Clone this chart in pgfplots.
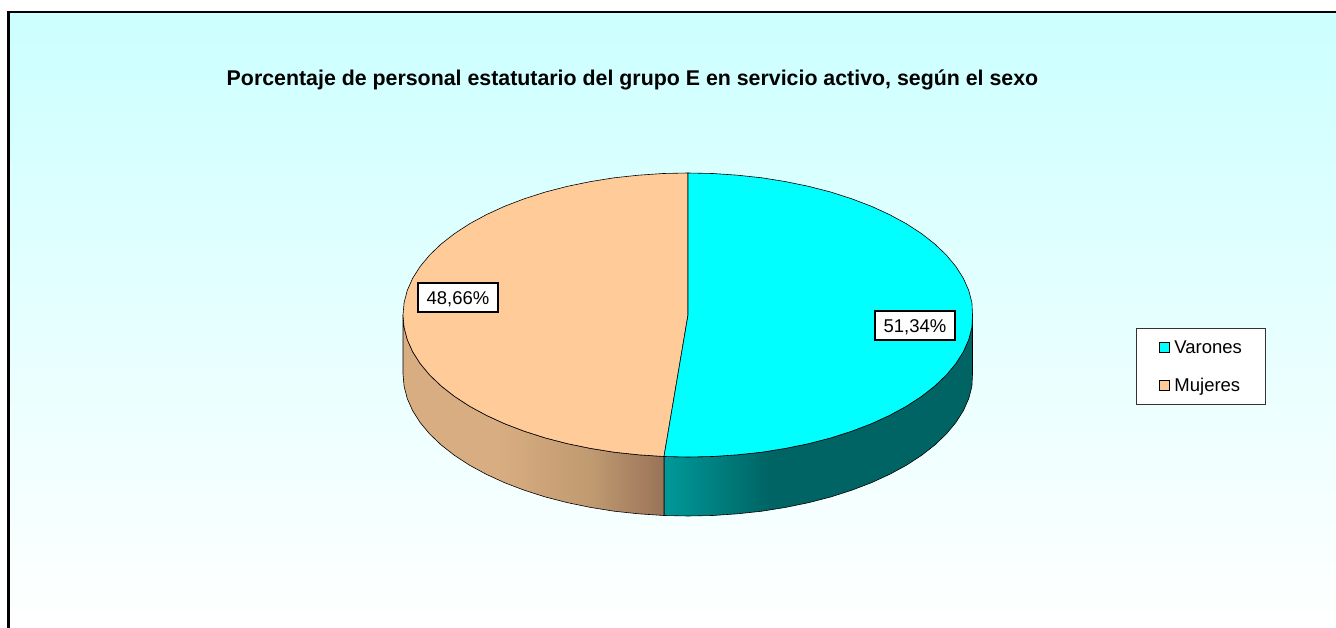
\documentclass[border=0pt]{standalone}
\usepackage{pgfplots}
\pgfplotsset{compat=1.18}
\usepackage{fontspec}
\setmainfont{Liberation Sans}
\definecolor{bgtop}{RGB}{204,255,255}
\definecolor{faceA}{RGB}{0,255,255}
\definecolor{faceB}{RGB}{255,204,153}
\definecolor{tealA}{RGB}{0,153,153}
\definecolor{tealB}{RGB}{0,100,100}
\definecolor{tanA}{RGB}{217,173,130}
\definecolor{tanB}{RGB}{192,154,112}
\definecolor{tanC}{RGB}{153,115,88}
\pgfdeclarehorizontalshading{tealside}{100bp}{color(0bp)=(tealA); color(25bp)=(tealA); color(42bp)=(tealB); color(100bp)=(tealB)}
\pgfdeclarehorizontalshading{tanside}{100bp}{color(0bp)=(tanA); color(43bp)=(tanA); color(61bp)=(tanB); color(75bp)=(tanC); color(100bp)=(tanC)}
\begin{document}
\begin{tikzpicture}
\begin{axis}[
  scale only axis, width=1336pt, height=628pt,
  xmin=0, xmax=1336, ymin=0, ymax=628, y dir=reverse,
  hide axis, clip=true,
  legend style={at={(axis cs:1135.5,328)}, anchor=north west, draw=black!80, line width=0.9pt, fill=white,
    font=\fontsize{18.5}{20}\selectfont, inner xsep=23pt, inner ysep=12pt,
    row sep=23pt,
    nodes={inner sep=0pt, anchor=west}},
  legend cell align=left,
]
% page
\addplot[forget plot, draw=none, fill=white] coordinates {(0,0)(1336,0)(1336,628)(0,628)} -- cycle;
% background
\addplot[forget plot, draw=none, top color=bgtop, bottom color=white] coordinates {(8.5,12)(1336,12)(1336,628)(8.5,628)} -- cycle;
\addplot[forget plot, black, line width=2.6pt] coordinates {(8.5,628)(8.5,12)(1336,12)};
% side, Varones
\addplot[forget plot, draw=black, line width=0.6pt, shading=tealside] coordinates {
(664,456.5)(688,457)(712.8,456.5)(737.5,454.8)(761.8,452.2)(785.5,448.4)(808.4,443.7)(830.5,438)(851.5,431.3)(871.2,423.8)(889.5,415.4)(906.3,406.3)(921.5,396.4)(934.8,386)(946.3,375)(955.8,363.6)(963.3,351.8)(968.7,339.7)(971.9,327.4)(972.5,315)
(972.5,374)(971.9,386.4)(968.7,398.7)(963.3,410.8)(955.8,422.6)(946.3,434)(934.8,445)(921.5,455.4)(906.3,465.3)(889.5,474.4)(871.2,482.8)(851.5,490.3)(830.5,497)(808.4,502.7)(785.5,507.4)(761.8,511.2)(737.5,513.8)(712.8,515.5)(688,516)(664,515.5)} -- cycle;
% side, Mujeres
\addplot[forget plot, draw=black, line width=0.6pt, shading=tanside] coordinates {
(664,456.5)(638.5,454.8)(614.2,452.2)(590.5,448.4)(567.6,443.7)(545.5,438)(524.5,431.3)(504.8,423.8)(486.5,415.4)(469.7,406.3)(454.5,396.4)(441.2,386)(429.7,375)(420.2,363.6)(412.7,351.8)(407.3,339.7)(404.1,327.4)(403,315)
(403,374)(404.1,386.4)(407.3,398.7)(412.7,410.8)(420.2,422.6)(429.7,434)(441.2,445)(454.5,455.4)(469.7,465.3)(486.5,474.4)(504.8,482.8)(524.5,490.3)(545.5,497)(567.6,502.7)(590.5,507.4)(614.2,511.2)(638.5,513.8)(664,515.5)} -- cycle;
% top, Mujeres 48.66
\addplot[forget plot, draw=black, line width=0.6pt, fill=faceB] coordinates {
(688,315)(664,456.5)(638.5,454.8)(614.2,452.2)(590.5,448.4)(567.6,443.7)(545.5,438)(524.5,431.3)(504.8,423.8)(486.5,415.4)(469.7,406.3)(454.5,396.4)(441.2,386)(429.7,375)(420.2,363.6)(412.7,351.8)(407.3,339.7)(404.1,327.4)(403,315)(404.1,302.6)(407.3,290.3)(412.7,278.2)(420.2,266.4)(429.7,255)(441.2,244)(454.5,233.6)(469.7,223.7)(486.5,214.6)(504.8,206.2)(524.5,198.7)(545.5,192)(567.6,186.3)(590.5,181.6)(614.2,177.8)(638.5,175.2)(663.2,173.5)(688,173)} -- cycle;
% top, Varones 51.34
\addplot[forget plot, draw=black, line width=0.6pt, fill=faceA] coordinates {
(688,315)(688,173)(712.8,173.5)(737.5,175.2)(761.8,177.8)(785.5,181.6)(808.4,186.3)(830.5,192)(851.5,198.7)(871.2,206.2)(889.5,214.6)(906.3,223.7)(921.5,233.6)(934.8,244)(946.3,255)(955.8,266.4)(963.3,278.2)(968.7,290.3)(971.9,302.6)(972.5,315)(971.9,327.4)(968.7,339.7)(963.3,351.8)(955.8,363.6)(946.3,375)(934.8,386)(921.5,396.4)(906.3,406.3)(889.5,415.4)(871.2,423.8)(851.5,431.3)(830.5,438)(808.4,443.7)(785.5,448.4)(761.8,452.2)(737.5,454.8)(712.8,456.5)(688,457)(664,456.5)} -- cycle;
\addlegendimage{legend image code/.code={\draw[black,line width=1.1pt,fill=faceA] (-5pt,-5pt) rectangle (5pt,5pt); \path (9.5pt,0pt);}}
\addlegendentry{Varones\hspace{2.5pt}}
\addlegendimage{legend image code/.code={\draw[black,line width=1.1pt,fill=faceB] (-5pt,-5pt) rectangle (5pt,5pt); \path (9.5pt,0pt);}}
\addlegendentry{Mujeres}
% data labels and title
\node[draw=black, fill=white, line width=1.5pt, minimum width=80pt, minimum height=29pt, inner sep=0pt, text height=13.3pt, text depth=0pt, font=\fontsize{18.5}{20}\selectfont] at (axis cs:458,297.5) {48,66\%};
\node[draw=black, fill=white, line width=1.5pt, minimum width=80pt, minimum height=29pt, inner sep=0pt, text height=13.3pt, text depth=0pt, font=\fontsize{18.5}{20}\selectfont] at (axis cs:915,325.5) {51,34\%};
\node[font=\bfseries\fontsize{21.35}{24}\selectfont, inner sep=0pt] at (axis cs:632.5,79.5) {Porcentaje de personal estatutario del grupo E en servicio activo, según el sexo};
\end{axis}
\end{tikzpicture}
\end{document}
